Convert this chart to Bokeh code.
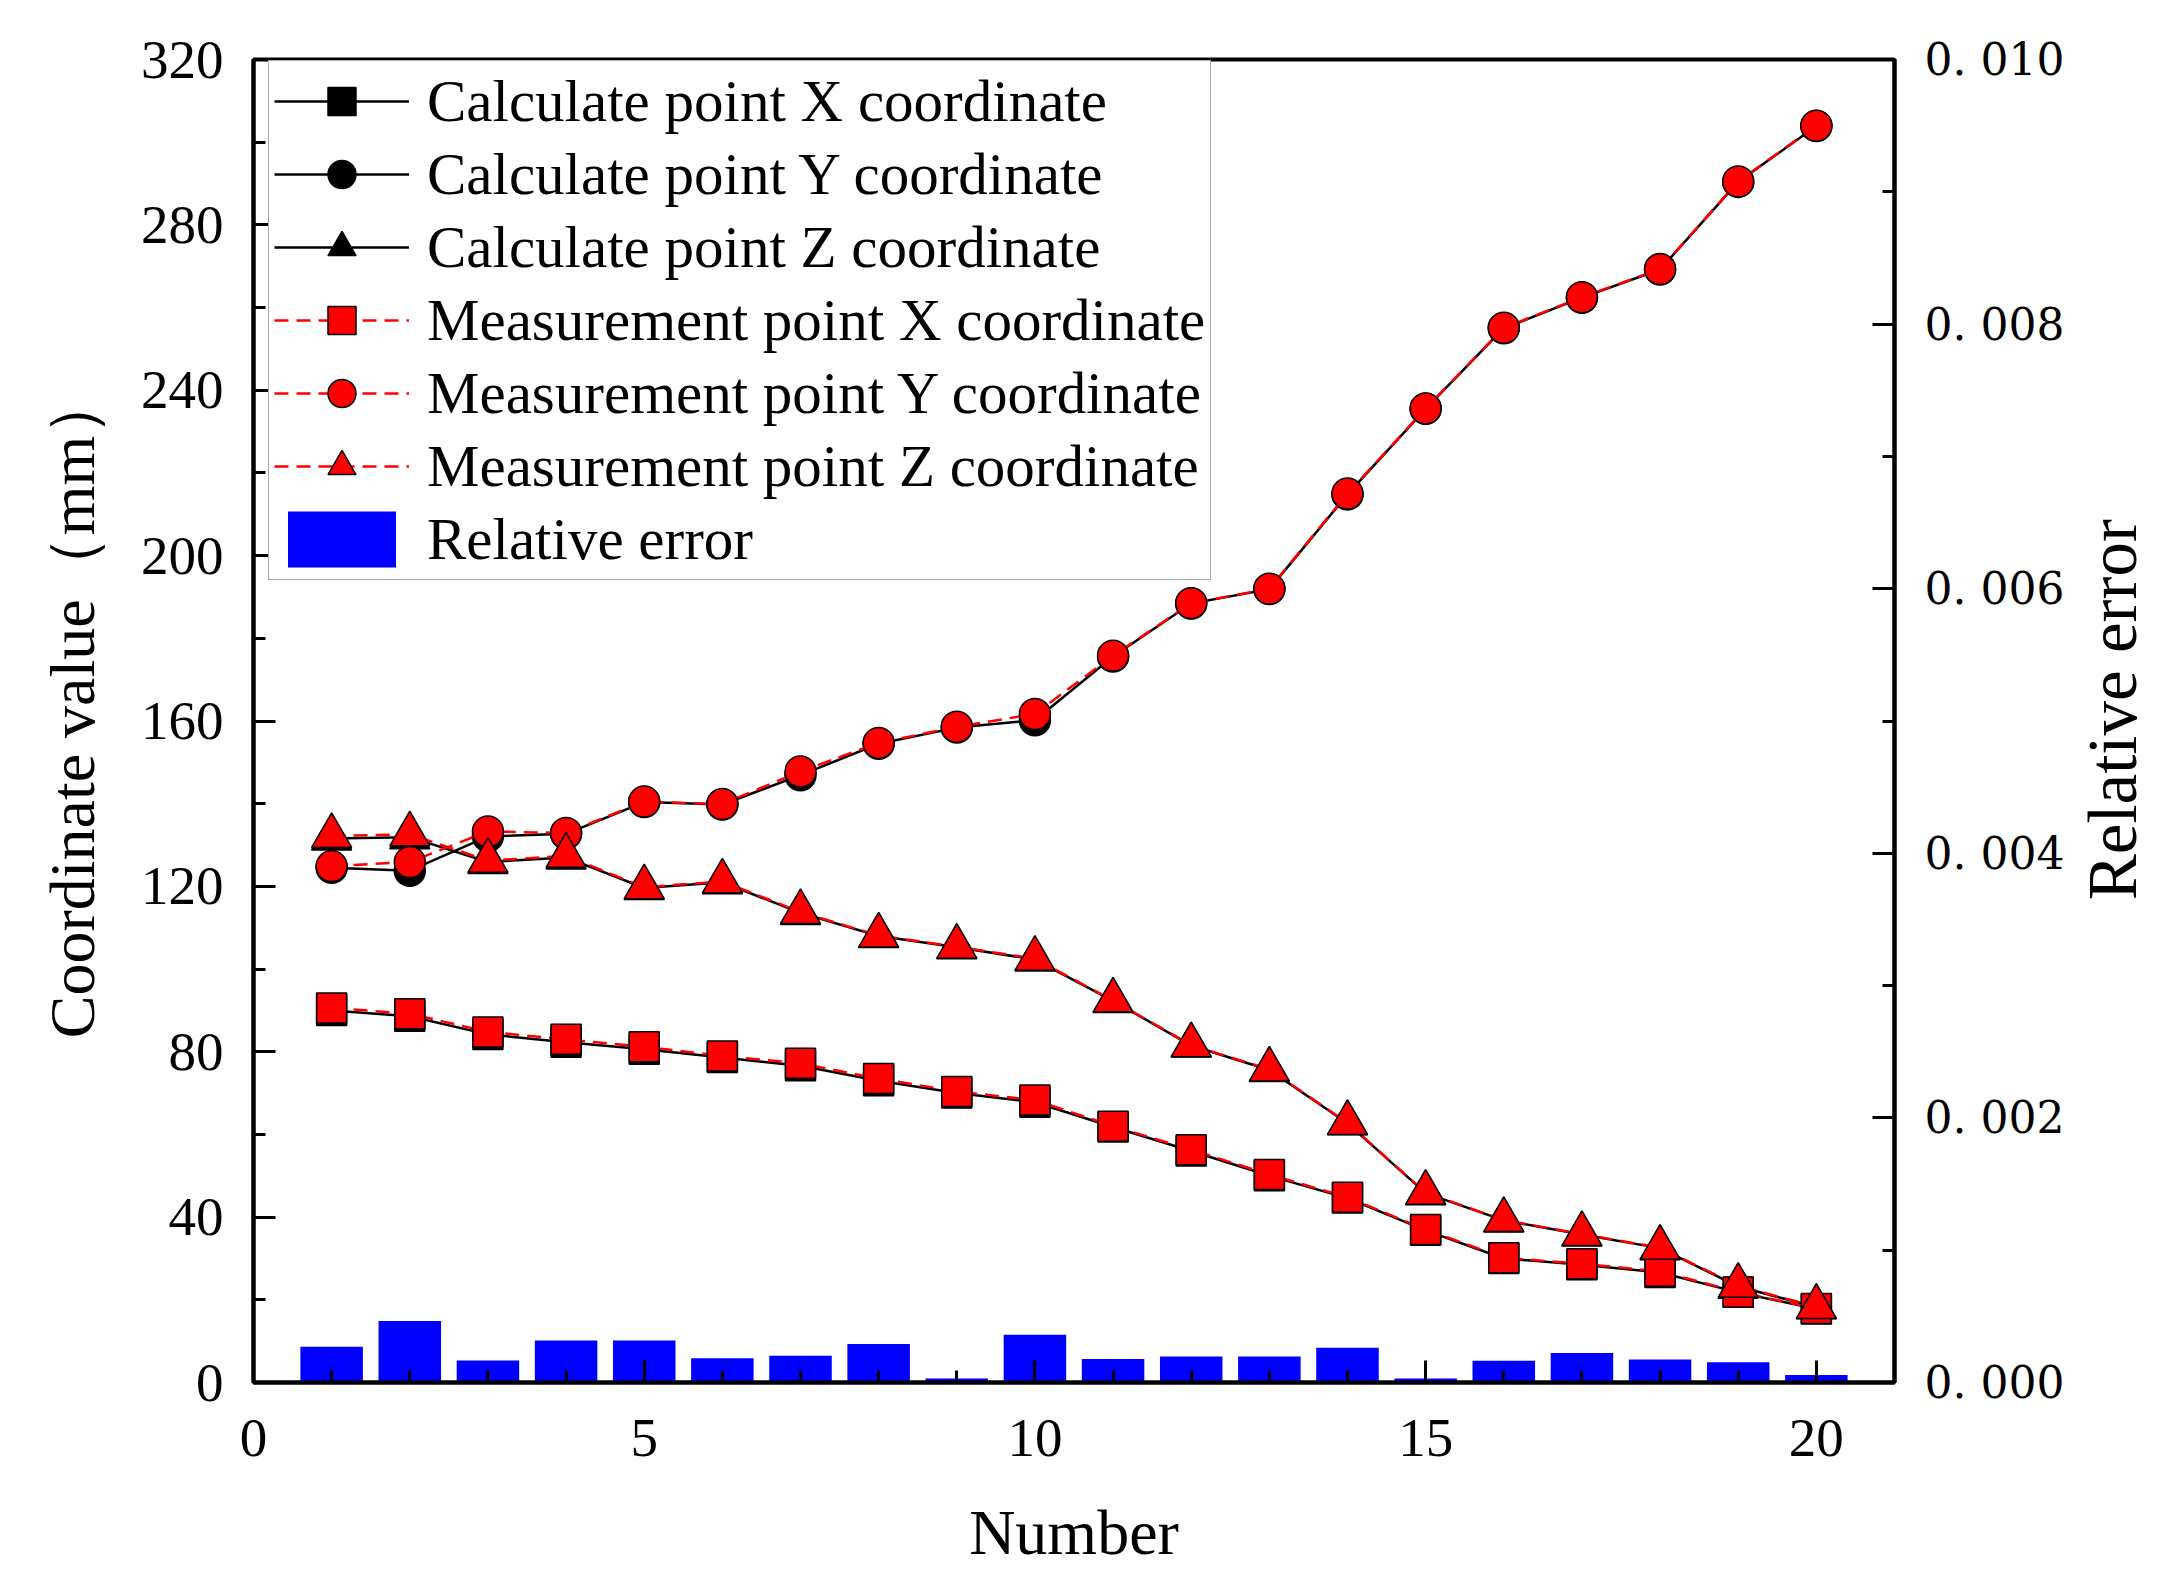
import math
from bokeh.plotting import figure
from bokeh.layouts import row
from bokeh.models import (Range1d, LinearAxis, SingleIntervalTicker,
                          CustomJSTickFormatter, Legend, LegendItem)
from bokeh.core.properties import value
from bokeh.embed import file_html
from bokeh.resources import INLINE

# ---------------- data ----------------
number = list(range(1, 21))

calc_x = [90.0, 88.6, 84.2, 82.3, 80.6, 78.6, 76.6, 73.0, 70.0, 67.8,
          61.8, 56.0, 50.0, 44.6, 36.8, 30.0, 28.5, 26.6, 21.8, 17.8]
meas_x = [90.6, 89.2, 84.8, 83.0, 81.2, 79.0, 77.2, 73.5, 70.4, 68.3,
          62.0, 56.3, 50.3, 44.8, 37.0, 30.2, 28.7, 26.9, 21.9, 17.9]

calc_y = [124.5, 123.8, 132.1, 132.7, 140.4, 139.8, 146.9, 154.5, 158.4, 160.2,
          175.6, 188.4, 191.9, 214.8, 235.5, 255.0, 262.4, 269.2, 290.4, 303.9]
meas_y = [124.9, 125.9, 133.3, 132.9, 140.5, 139.9, 147.8, 154.7, 158.6, 161.7,
          175.8, 188.5, 192.0, 215.0, 235.6, 255.1, 262.5, 269.3, 290.5, 304.0]

calc_z = [131.6, 131.9, 125.9, 127.0, 119.6, 121.0, 113.6, 108.0, 105.3, 102.3,
          92.3, 81.5, 75.6, 62.7, 45.8, 39.2, 35.8, 32.5, 23.2, 18.2]
meas_z = [132.2, 132.6, 126.2, 127.4, 119.8, 121.2, 113.8, 108.1, 105.4, 102.5,
          92.4, 81.6, 75.7, 62.8, 45.9, 39.3, 35.9, 32.6, 23.4, 18.3]

rel_err = [0.000271, 0.000464, 0.000167, 0.000317, 0.000317, 0.000183, 0.000202,
           0.000291, 0.000030, 0.000360, 0.000177, 0.000196, 0.000196, 0.000262,
           0.000030, 0.000165, 0.000223, 0.000173, 0.000153, 0.000057]

legend_labels = ["Calculate point X coordinate", "Calculate point Y coordinate",
                 "Calculate point Z coordinate", "Measurement point X coordinate",
                 "Measurement point Y coordinate", "Measurement point Z coordinate",
                 "Relative error"]

x_label = "Number"
y_label = "\u00a0\u00a0Coordinate value\uff08mm\uff09"
y2_label = "Relative error"

# ---------------- layout sizes ----------------
H = 1574
W_MAIN = 2068
W_SIDE = 92
BL, BT, BB = 253, 59, 192
FRAME_RIGHT = 1894
BR = W_MAIN - FRAME_RIGHT
FRAME_H = H - BT - BB

p = figure(width=W_MAIN, height=H, output_backend="svg", toolbar_location=None,
           x_range=Range1d(0, 21), y_range=Range1d(0, 320),
           min_border_left=BL, min_border_right=BR,
           min_border_top=BT, min_border_bottom=BB)
p.extra_y_ranges = {"err": Range1d(0, 0.010)}
p.xgrid.visible = False
p.ygrid.visible = False
p.outline_line_color = "black"
p.outline_line_width = 4
p.background_fill_color = "white"
p.border_fill_color = "white"

SERIF = "Liberation Serif"


def style_axis(ax):
    ax.axis_line_width = 4
    ax.axis_line_color = "black"
    ax.major_tick_in = 22
    ax.major_tick_out = 0
    ax.minor_tick_in = 12
    ax.minor_tick_out = 0
    ax.major_tick_line_width = 3
    ax.minor_tick_line_width = 3
    ax.major_tick_line_color = "black"
    ax.minor_tick_line_color = "black"
    ax.major_label_text_color = "black"
    ax.axis_label_text_color = "black"
    ax.axis_label_text_font_style = "normal"


xa = p.xaxis[0]
xa.ticker = SingleIntervalTicker(interval=5, num_minor_ticks=5)
style_axis(xa)
xa.major_label_text_font = SERIF
xa.major_label_text_font_size = "55px"
xa.major_label_standoff = 37
xa.axis_label = x_label
xa.axis_label_text_font = SERIF
xa.axis_label_text_font_size = "64px"
xa.axis_label_standoff = 38

ya = p.yaxis[0]
ya.ticker = SingleIntervalTicker(interval=40, num_minor_ticks=2)
style_axis(ya)
ya.major_label_text_font = SERIF
ya.major_label_text_font_size = "55px"
ya.major_label_standoff = 30
ya.axis_label = y_label
ya.axis_label_text_font = SERIF
ya.axis_label_text_font_size = "64px"
ya.axis_label_standoff = 30

ra = LinearAxis(y_range_name="err",
                ticker=SingleIntervalTicker(interval=0.002, num_minor_ticks=2),
                formatter=CustomJSTickFormatter(
                    code="return tick.toFixed(3).replace('.', '. ');"))
style_axis(ra)
ra.major_label_text_font = "DejaVu Serif"
ra.major_label_text_font_size = "44px"
ra.major_label_standoff = 30
p.add_layout(ra, "right")

# ---------------- glyphs ----------------
bars = p.vbar(x=number, top=rel_err, width=0.8, y_range_name="err",
              fill_color="#0000FF", line_color=None)

LW = 2.5
cxl = p.line(number, calc_x, line_color="black", line_width=LW)
cyl = p.line(number, calc_y, line_color="black", line_width=LW)
czl = p.line(number, calc_z, line_color="black", line_width=LW)
cxm = p.scatter(number, calc_x, marker="square", size=30, fill_color="black",
                line_color="black", line_width=1.5)
cym = p.scatter(number, calc_y, marker="circle", size=31, fill_color="black",
                line_color="black", line_width=1.5)
czm = p.scatter(number, calc_z, marker="triangle", size=40, fill_color="black",
                line_color="black", line_width=1.5)

DASH = "14 8"
mxl = p.line(number, meas_x, line_color="#FF0000", line_width=LW, line_dash=DASH)
myl = p.line(number, meas_y, line_color="#FF0000", line_width=LW, line_dash=DASH)
mzl = p.line(number, meas_z, line_color="#FF0000", line_width=LW, line_dash=DASH)
mxm = p.scatter(number, meas_x, marker="square", size=30, fill_color="#FF0000",
                line_color="black", line_width=1.5)
mym = p.scatter(number, meas_y, marker="circle", size=31, fill_color="#FF0000",
                line_color="black", line_width=1.5)
mzm = p.scatter(number, meas_z, marker="triangle", size=40, fill_color="#FF0000",
                line_color="black", line_width=1.5)

items = [
    LegendItem(label=legend_labels[0], renderers=[cxl, cxm]),
    LegendItem(label=legend_labels[1], renderers=[cyl, cym]),
    LegendItem(label=legend_labels[2], renderers=[czl, czm]),
    LegendItem(label=legend_labels[3], renderers=[mxl, mxm]),
    LegendItem(label=legend_labels[4], renderers=[myl, mym]),
    LegendItem(label=legend_labels[5], renderers=[mzl, mzm]),
    LegendItem(label=legend_labels[6], renderers=[bars]),
]
LEG_H = 518
legend = Legend(items=items, location=(15, FRAME_H - 3 - LEG_H),
                label_text_font=SERIF, label_text_font_size="59px",
                label_text_color="black",
                glyph_width=135, glyph_height=70, spacing=3, padding=5,
                label_standoff=18, margin=0,
                border_line_color="#555555", border_line_width=1.5,
                background_fill_color="white", background_fill_alpha=1.0)
p.add_layout(legend)

# ---------------- right-hand axis title (reads bottom to top) ----------------
side = figure(width=W_SIDE, height=H, output_backend="svg", toolbar_location=None,
              x_range=Range1d(0, W_SIDE), y_range=Range1d(0, H),
              x_axis_location=None, y_axis_location=None,
              min_border_left=0, min_border_right=0,
              min_border_top=0, min_border_bottom=0)
side.xgrid.visible = False
side.ygrid.visible = False
side.outline_line_color = None
side.background_fill_color = "white"
side.border_fill_color = "white"
side.text(x=[44], y=[H - (BT + FRAME_H / 2) - 53], text=[y2_label], angle=math.pi / 2,
          text_align="center", text_baseline="middle",
          text_font=value(SERIF), text_font_size="69px", text_color="black")

layout = row(p, side, spacing=0)

open("out.html", "w").write(file_html(layout, INLINE))
